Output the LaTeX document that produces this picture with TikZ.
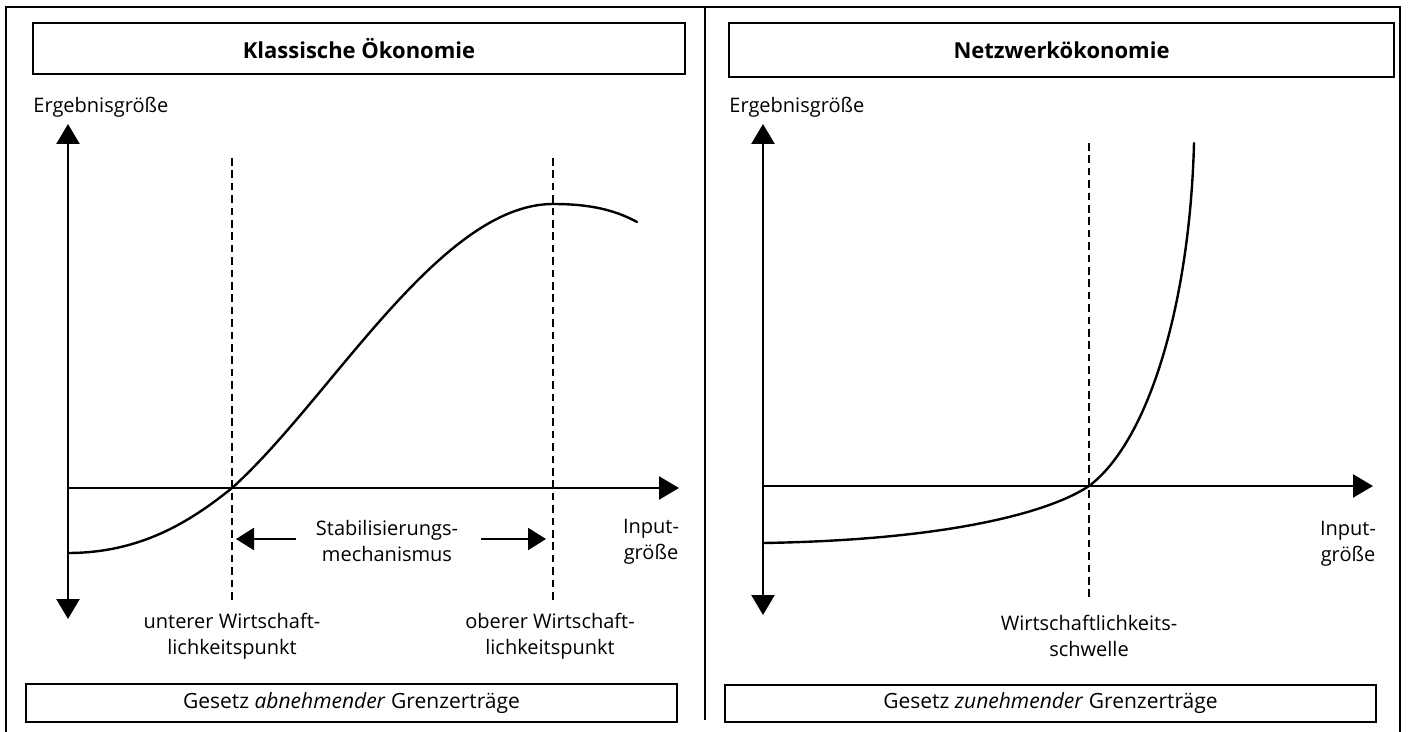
\documentclass[tikz,border=0pt]{standalone}
\usepackage{fontspec}
\setmainfont{Open Sans}
\usepackage{tikz}
\usetikzlibrary{arrows.meta}
\tikzset{
  frame/.style={draw=black, line width=0.7pt},
  axis/.style={draw=black, line width=1.2pt, {Triangle[width=11.5pt,length=10pt]}-{Triangle[width=11.5pt,length=10pt]}},
  haxis/.style={draw=black, line width=1.2pt, -{Triangle[width=11.5pt,length=10pt]}},
  stab/.style={draw=black, line width=1.2pt, -{Triangle[width=11pt,length=9pt]}},
  curve/.style={draw=black, line width=1.2pt, line cap=round},
  help/.style={draw=black, line width=1.2pt, dash pattern=on 3.8pt off 2.4pt},
  head/.style={frame, inner sep=0pt, font=\bfseries\fontsize{11}{13}\selectfont},
  law/.style={frame, inner sep=0pt, font=\fontsize{10.5}{12}\selectfont},
  lab/.style={inner sep=0pt, align=center, font=\fontsize{10}{13}\selectfont},
}
\begin{document}
\begin{tikzpicture}[x=0.5pt,y=-0.5pt]
  \useasboundingbox (0,0) rectangle (1408,732);

  % frame
  \draw[frame] (6,732) -- (6,7) -- (1400,7) -- (1400,732);
  \draw[frame] (705,7) -- (705,720);

  % left panel
  \node[head, minimum width=326pt, minimum height=25.5pt] (lhead) at (359,48.5) {Klassische Ökonomie};
  \node[lab, anchor=west] (ly) at (33,107) {Ergebnisgröße};
  \coordinate (lO) at (68,488);
  \coordinate (lTop) at (68,124);
  \coordinate (lBot) at (68,619);
  \coordinate (lEnd) at (679,488);
  \coordinate (lS) at (68,553);
  \coordinate (lA) at (232,488);
  \coordinate (lM) at (553,204);
  \coordinate (lE) at (637,222);

  \draw[help] (232,158) -- (232,600);
  \draw[help] (553,158) -- (553,600);
  \draw[axis] (lBot) -- (lTop);
  \draw[haxis] (lO) -- (lEnd);
  \draw[curve] (lS) .. controls (140,553) and (190,522) .. (lA)
    .. controls (330,400) and (440,204) .. (lM)
    .. controls (590,204) and (615,210) .. (lE);

  \node[lab] (stab) at (387,541) {Stabilisierungs-\\mechanismus};
  \coordinate (sl) at (296,539);
  \coordinate (sr) at (481,539);
  \coordinate (stabL) at (236,539);
  \coordinate (stabR) at (546,539);
  \draw[stab] (sl) -- (stabL);
  \draw[stab] (sr) -- (stabR);
  \node[lab] (lin) at (651,542) {Input-\\größe};
  \node[lab] (unt) at (232,636) {unterer Wirtschaft-\\lichkeitspunkt};
  \node[lab] (obe) at (550,636) {oberer Wirtschaft-\\lichkeitspunkt};
  \node[law, minimum width=325.5pt, minimum height=19pt] (llaw) at (351.5,703) {Gesetz \textit{abnehmender} Grenzerträge};

  % right panel
  \node[head, minimum width=332.5pt, minimum height=27pt] (rhead) at (1061.5,50) {Netzwerkökonomie};
  \node[lab, anchor=west] (ry) at (729,107) {Ergebnisgröße};
  \coordinate (rO) at (763,486);
  \coordinate (rTop) at (763,124);
  \coordinate (rBot) at (763,615);
  \coordinate (rEnd) at (1373,486);
  \coordinate (rS) at (763,543);
  \coordinate (rA) at (1089,486);
  \coordinate (rE) at (1194,143);

  \draw[help] (1089,143) -- (1089,600);
  \draw[axis] (rBot) -- (rTop);
  \draw[haxis] (rO) -- (rEnd);
  \draw[curve] (rS) .. controls (950,540) and (1050,512) .. (rA)
    .. controls (1150,440) and (1190,300) .. (rE);

  \node[lab] (rin) at (1348,544) {Input-\\größe};
  \node[lab] (thr) at (1089,636) {Wirtschaftlichkeits-\\schwelle};
  \node[law, minimum width=325.5pt, minimum height=18.5pt] (rlaw) at (1050.5,703.5) {Gesetz \textit{zunehmender} Grenzerträge};
\end{tikzpicture}
\end{document}
